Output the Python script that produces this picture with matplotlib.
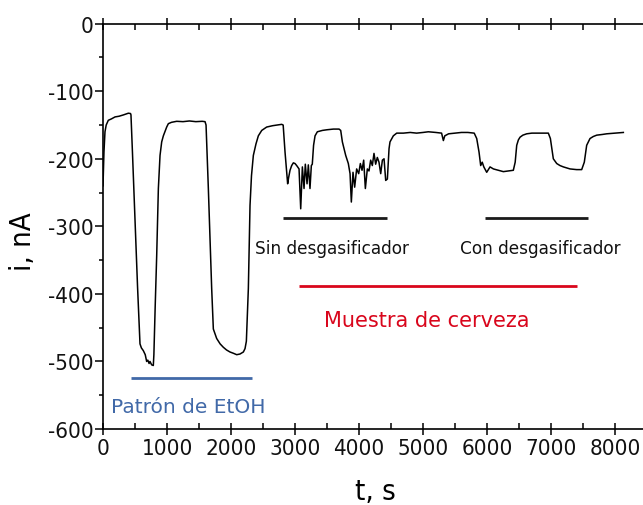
import matplotlib
matplotlib.use("Agg")
import matplotlib.pyplot as plt
from matplotlib.ticker import MultipleLocator
from matplotlib import font_manager
from matplotlib.font_manager import FontProperties

plt.rcParams["axes.unicode_minus"] = False

# Amperometric trace: time (s) and current (nA)
t_s = [0, 15, 31, 50, 83, 130, 188, 250, 320, 396, 430,
       437, 460, 500, 540, 570, 578, 600, 630, 660, 682, 700, 720, 734, 760, 786,
       795, 815, 839, 865, 891, 917, 943, 995, 1021, 1070, 1151, 1250, 1350, 1450,
       1550, 1594, 1610, 1646, 1698, 1724, 1776, 1830, 1880, 1930, 1984, 2040, 2089,
       2140, 2193, 2219, 2240, 2271, 2297, 2320, 2349, 2390, 2427, 2480, 2557, 2650,
       2720, 2792, 2815, 2844, 2885, 2900, 2922, 2948, 2974, 3000, 3026, 3063, 3089,
       3115, 3141, 3161, 3188, 3208, 3234, 3255, 3270, 3290, 3313, 3349, 3427, 3500,
       3600, 3688, 3714, 3740, 3792, 3833, 3860, 3880, 3906, 3932, 3963, 3995, 4021,
       4047, 4073, 4099, 4130, 4156, 4182, 4208, 4234, 4260, 4286, 4312, 4339, 4365,
       4391, 4417, 4443, 4469, 4484, 4536, 4589, 4693, 4800, 4900, 5000, 5083, 5200,
       5290, 5318, 5340, 5400, 5500, 5600, 5700, 5800, 5839, 5875, 5901, 5925, 5950,
       5995, 6047, 6100, 6177, 6255, 6330, 6411, 6440, 6464, 6490, 6516, 6560, 6620,
       6700, 6800, 6900, 6958, 6990, 7036, 7089, 7140, 7193, 7297, 7400, 7479, 7520,
       7557, 7609, 7660, 7714, 7800, 7870, 8000, 8130]
i_nA = [-240, -190, -160, -150, -143, -141, -138, -137, -135, -132.5, -133,
        -135, -190, -290, -390, -455, -474, -480, -484, -490, -500, -498, -503, -500, -505, -506,
        -490, -420, -343, -244, -195, -175, -166, -153, -148, -146, -144.5, -145, -144, -145,
        -144.5, -145, -150, -244, -392, -452, -466, -474, -479, -483, -486, -488, -490,
        -489, -486, -481, -470, -392, -269, -225, -195, -178, -166, -158, -153, -151,
        -150, -149, -150, -190, -237, -228, -217, -210, -206, -207, -210, -215, -274,
        -212, -244, -208, -237, -209, -244, -210, -208, -180, -166, -160, -158, -157,
        -156, -156, -158, -175, -195, -207, -222, -264, -220, -242, -215, -222, -207,
        -217, -202, -244, -215, -218, -202, -210, -192, -208, -198, -205, -222, -202,
        -200, -232, -230, -185, -175, -166, -162, -162, -161, -162, -161, -160, -161,
        -162, -173, -166, -163, -162, -161, -161, -162, -170, -190, -210, -205, -212,
        -220, -212, -215, -217, -219, -218, -217, -205, -180, -172, -168, -165, -163,
        -162, -162, -162, -162, -170, -200, -207, -210, -212, -215, -216, -216, -205,
        -180, -170, -167, -165, -164, -163, -162, -161]

# Annotation bars: (start, end, level) in data units
etoh_bar = (436, 2327, -525)
sin_bar = (2808, 4430, -288)
con_bar = (5962, 7571, -288)
beer_bar = (3064, 7404, -388)

labels = {
    "etoh": "Patrón de EtOH",
    "sin": "Sin desgasificador",
    "con": "Con desgasificador",
    "beer": "Muestra de cerveza",
}

x_ticks = [0, 1000, 2000, 3000, 4000, 5000, 6000, 7000, 8000]
y_ticks = [0, -100, -200, -300, -400, -500, -600]


def pick_narrow_font():
    """Return FontProperties for a condensed sans face if one is installed."""
    prefs = ["dejavusanscondensed.ttf", "liberationsansnarrow-regular.ttf",
             "robotocondensed-regular.ttf", "opensans_condensed-regular.ttf",
             "opensanscondensed-regular.ttf", "notosans-condensed.ttf",
             "notosanscondensed-regular.ttf"]
    files = [f.fname for f in font_manager.fontManager.ttflist]
    lower = {fn.split("/")[-1].lower(): fn for fn in files}
    for p in prefs:
        if p in lower:
            return FontProperties(fname=lower[p]), True
    for base, fn in lower.items():
        if ("condensed" in base or "narrow" in base) and "bold" not in base \
                and "italic" not in base and "oblique" not in base \
                and "light" not in base and "semi" not in base:
            return FontProperties(fname=fn), True
    return FontProperties(family="DejaVu Sans"), False


narrow_fp, is_narrow = pick_narrow_font()
tick_size = 16 if is_narrow else 13
label_size = 21 if is_narrow else 18

fig = plt.figure(figsize=(6.43, 5.06), dpi=100)
ax = fig.add_axes([103 / 643, 76 / 506, 1 - 103 / 643, 405.3 / 506])

ax.plot(t_s, i_nA, color="black", lw=1.1)

blue = "#4169a8"
red = "#d9061c"
ax.hlines(etoh_bar[2], etoh_bar[0], etoh_bar[1], color=blue, lw=2)
ax.hlines(sin_bar[2], sin_bar[0], sin_bar[1], color="#1a1a1a", lw=2)
ax.hlines(con_bar[2], con_bar[0], con_bar[1], color="#1a1a1a", lw=2)
ax.hlines(beer_bar[2], beer_bar[0], beer_bar[1], color=red, lw=2)

ax.text(1330, -566, labels["etoh"], color=blue, ha="center", va="center",
        family="DejaVu Sans", fontsize=14.5)
ax.text(3577, -332, labels["sin"], color="#111111", ha="center", va="center",
        family="DejaVu Sans", fontsize=12.2)
ax.text(6833, -332, labels["con"], color="#111111", ha="center", va="center",
        family="DejaVu Sans", fontsize=12.2)
ax.text(5064, -438, labels["beer"], color=red, ha="center", va="center",
        family="DejaVu Sans", fontsize=15)

ax.set_xlim(0, 8437)
ax.set_ylim(-600, 0)
ax.set_xticks(x_ticks)
ax.set_yticks(y_ticks)
ax.xaxis.set_minor_locator(MultipleLocator(500))
ax.yaxis.set_minor_locator(MultipleLocator(50))
ax.spines["right"].set_visible(False)
for s in ax.spines.values():
    s.set_linewidth(1.2)

ax.tick_params(axis="x", which="major", direction="inout", length=9, width=1.1,
               top=True, pad=2)
ax.tick_params(axis="x", which="minor", direction="in", length=4, width=1.1, top=True)
ax.tick_params(axis="y", which="major", direction="out", length=6, width=1.1, pad=1)
ax.tick_params(axis="y", which="minor", direction="out", length=3, width=1.1)

for lab in ax.get_xticklabels() + ax.get_yticklabels():
    lab.set_fontproperties(narrow_fp)
    lab.set_fontsize(tick_size)
    lab.set_color("#111111")

ax.set_xlabel("t, s", fontproperties=narrow_fp, fontsize=label_size)
ax.set_ylabel("i, nA", fontproperties=narrow_fp, fontsize=label_size)
ax.xaxis.set_label_coords((375 - 103) / 540, -(492 - 430) / 405.3)
ax.yaxis.set_label_coords(-(103 - 23) / 540, (430 - 242) / 405.3)
ax.xaxis.label.set_va("center")
ax.yaxis.label.set_va("center")

fig.savefig("out.png", dpi=100)
